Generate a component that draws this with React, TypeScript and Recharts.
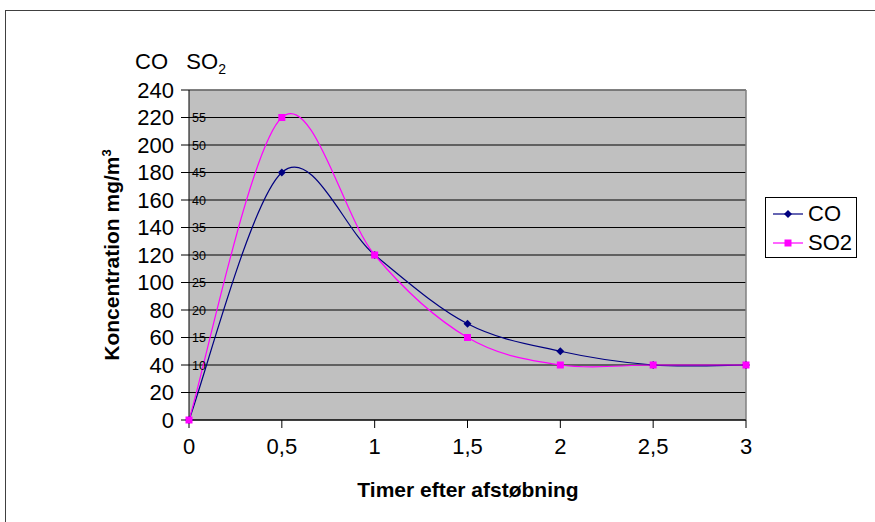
import { CartesianGrid, Line, LineChart, ReferenceLine, XAxis, YAxis } from "recharts";

// timer efter afstøbning
const hours = [0, 0.5, 1, 1.5, 2, 2.5, 3];
// CO i mg/m3 (venstre akse)
const coValues = [0, 180, 120, 70, 50, 40, 40];
// SO2 i mg/m3 (indre akse, 0-60)
const so2Values = [0, 55, 30, 15, 10, 10, 10];

const xTicks = [0, 0.5, 1, 1.5, 2, 2.5, 3];
const coTicks = [0, 20, 40, 60, 80, 100, 120, 140, 160, 180, 200, 220, 240];
const so2Ticks = [10, 15, 20, 25, 30, 35, 40, 45, 50, 55];

const data = hours.map((h, i) => ({ h, co: coValues[i], so2: so2Values[i] }));

const FONT = "'Liberation Sans', Arial, sans-serif";
const PLOT_LEFT = 188;

// Excel-agtig udglattet linje (Catmull-Rom)
const smooth = (ctx: any) => {
  let pts: number[][] = [];
  return {
    areaStart() {},
    areaEnd() {},
    lineStart() {
      pts = [];
    },
    point(x: number, y: number) {
      pts.push([+x, +y]);
    },
    lineEnd() {
      if (!pts.length) return;
      ctx.moveTo(pts[0][0], pts[0][1]);
      for (let i = 0; i < pts.length - 1; i++) {
        const p0 = pts[i - 1] || pts[i];
        const p1 = pts[i];
        const p2 = pts[i + 1];
        const p3 = pts[i + 2] || p2;
        ctx.bezierCurveTo(
          p1[0] + (p2[0] - p0[0]) / 6,
          p1[1] + (p2[1] - p0[1]) / 6,
          p2[0] - (p3[0] - p1[0]) / 6,
          p2[1] - (p3[1] - p1[1]) / 6,
          p2[0],
          p2[1]
        );
      }
    },
  };
};

const Diamond = (p: any) => {
  const { cx, cy, index } = p;
  return (
    <path
      key={`d${index}`}
      d={`M${cx},${cy - 4}L${cx + 4},${cy}L${cx},${cy + 4}L${cx - 4},${cy}Z`}
      fill="#000080"
    />
  );
};

const Square = (p: any) => {
  const { cx, cy, index } = p;
  return <rect key={`s${index}`} x={cx - 3.5} y={cy - 3.5} width={7} height={7} fill="#FF00FF" />;
};

const renderSo2Tick = (p: any) => (
  <text key={`t${p.index}`} x={PLOT_LEFT + 4} y={p.y} dy={4.5} fontSize={12.5} fontFamily={FONT} fill="#000">
    {p.payload.value}
  </text>
);

export default function App() {
  return (
    <div
      style={{
        position: "absolute",
        left: 0,
        top: 0,
        width: 875,
        height: 522,
        overflow: "hidden",
        background: "#fff",
        fontFamily: FONT,
      }}
    >
      <div
        style={{
          position: "absolute",
          left: 5,
          top: 10,
          width: 900,
          height: 600,
          borderTop: "1px solid #404040",
          borderLeft: "1px solid #404040",
        }}
      />
      <div style={{ position: "absolute", left: 0, top: 0 }}>
        <LineChart width={875} height={522} data={data} margin={{ top: 90, right: 129, bottom: 72, left: 0 }}>
          <CartesianGrid yAxisId="co" vertical={false} stroke="#000" fill="#C0C0C0" fillOpacity={1} />
          <XAxis
            dataKey="h"
            type="number"
            domain={[0, 3]}
            ticks={xTicks}
            tickFormatter={(v: number) => String(v).replace(".", ",")}
            tick={{ fontSize: 22, fill: "#000", fontFamily: FONT }}
            tickSize={8}
            tickMargin={10}
            stroke="#000"
            height={30}
          />
          <YAxis
            yAxisId="co"
            domain={[0, 240]}
            ticks={coTicks}
            interval={0}
            width={PLOT_LEFT}
            tick={{ fontSize: 22, fill: "#000", fontFamily: FONT }}
            tickSize={8}
            tickMargin={7}
            stroke="#000"
          />
          <YAxis
            yAxisId="so2"
            domain={[0, 60]}
            ticks={so2Ticks}
            interval={0}
            width={1}
            axisLine={false}
            tickLine={false}
            tick={renderSo2Tick}
          />
          <ReferenceLine yAxisId="co" y={240} stroke="#808080" strokeWidth={1.5} />
          <ReferenceLine yAxisId="co" x={3} stroke="#808080" strokeWidth={1.5} />
          <Line
            yAxisId="co"
            dataKey="co"
            type={smooth as any}
            stroke="#000080"
            strokeWidth={1.2}
            dot={Diamond}
            activeDot={false}
            isAnimationActive={false}
          />
          <Line
            yAxisId="so2"
            dataKey="so2"
            type={smooth as any}
            stroke="#FF00FF"
            strokeWidth={1.2}
            dot={Square}
            activeDot={false}
            isAnimationActive={false}
          />
        </LineChart>
      </div>

      <div style={{ position: "absolute", left: 135, top: 49, fontSize: 22, whiteSpace: "nowrap" }}>
        CO&nbsp;&nbsp;&nbsp;SO<sub style={{ fontSize: 14 }}>2</sub>
      </div>

      <div
        style={{
          position: "absolute",
          left: 111,
          top: 255,
          transform: "translate(-50%, -50%) rotate(-90deg)",
          fontSize: 21,
          fontWeight: "bold",
          whiteSpace: "nowrap",
        }}
      >
        Koncentration mg/m<sup style={{ fontSize: 13 }}>3</sup>
      </div>

      <div
        style={{
          position: "absolute",
          left: 468,
          top: 490,
          transform: "translate(-50%, -50%)",
          fontSize: 21,
          fontWeight: "bold",
          whiteSpace: "nowrap",
        }}
      >
        Timer efter afstøbning
      </div>

      <div
        style={{
          position: "absolute",
          left: 765,
          top: 197,
          width: 90,
          height: 59,
          border: "1px solid #000",
          fontSize: 22,
        }}
      >
        {[
          { name: "CO", color: "#000080", marker: "d" },
          { name: "SO2", color: "#FF00FF", marker: "s" },
        ].map((it, i) => (
          <div key={it.name} style={{ position: "absolute", left: 7, top: 4 + i * 29, height: 24, display: "flex", alignItems: "center" }}>
            <svg width={30} height={10}>
              <line x1={0} y1={5} x2={30} y2={5} stroke={it.color} strokeWidth={1.2} />
              {it.marker === "d" ? (
                <path d="M15,1L19,5L15,9L11,5Z" fill={it.color} />
              ) : (
                <rect x={11.5} y={1.5} width={7} height={7} fill={it.color} />
              )}
            </svg>
            <span style={{ marginLeft: 5 }}>{it.name}</span>
          </div>
        ))}
      </div>
    </div>
  );
}
